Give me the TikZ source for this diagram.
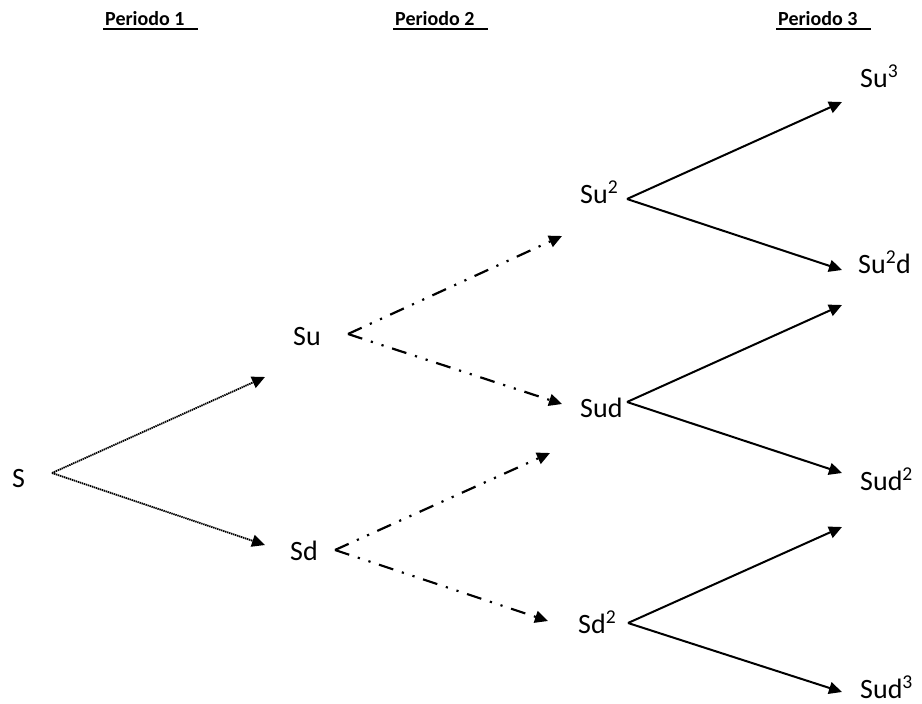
\documentclass[tikz,border=0pt]{standalone}
\usepackage{fontspec}
\setmainfont{Carlito}
\usetikzlibrary{arrows.meta}
\tikzset{
  lbl/.style={anchor=base west, inner sep=0pt, font=\fontsize{28}{32}\selectfont},
  hdr/.style={anchor=base west, inner sep=0pt, font=\bfseries\fontsize{20}{24}\selectfont},
  arr/.style={line width=2pt, -{Triangle[length=13pt,width=12pt]}},
  dotarr/.style={line width=1.8pt, dash pattern=on 1.4pt off 0.7pt, -{Triangle[length=13pt,width=12pt]}},
  dddarr/.style={line width=2.2pt, dash pattern=on 15pt off 9pt on 2.2pt off 9pt on 2.2pt off 9pt, -{Triangle[length=13pt,width=12pt]}},
  uline/.style={line width=2pt}
}
\begin{document}
\begin{tikzpicture}[x=1pt,y=-1pt]
\useasboundingbox (0,0) rectangle (922,704);
% headers
\node[hdr] (h1) at (105,25) {Periodo 1};
\node[hdr] (h2) at (395,25) {Periodo 2};
\node[hdr] (h3) at (778,25) {Periodo 3};
\draw[uline] (h1.south west) ++(-2,4) coordinate (h1a) -- ++(95,0) coordinate (h1b);
\draw[uline] (h2.south west) ++(-2,4) coordinate (h2a) -- ++(95,0) coordinate (h2b);
\draw[uline] (h3.south west) ++(-2,4) coordinate (h3a) -- ++(95,0) coordinate (h3b);
% labels
\node[lbl] (S)   at (12,487)  {S};
\node[lbl] (Su)  at (293,345) {Su};
\node[lbl] (Sd)  at (290,560) {Sd};
\node[lbl] (Su2) at (580,203) {Su\textsuperscript{2}};
\node[lbl] (Sud) at (580,417) {Sud};
\node[lbl] (Sd2) at (578,633) {Sd\textsuperscript{2}};
\node[lbl] (Su3) at (860,87)  {Su\textsuperscript{3}};
\node[lbl] (Su2d) at (858,273) {Su\textsuperscript{2}d};
\node[lbl] (Sud2) at (860,490) {Sud\textsuperscript{2}};
\node[lbl] (Sud3) at (860,698) {Sud\textsuperscript{3}};
% branch points and tips
\coordinate (pS) at (52,473);
\coordinate (tSu) at (265,377);
\coordinate (tSd) at (265,545);
\coordinate (pSu) at (348,334);
\coordinate (tSu2) at (562,236);
\coordinate (tSud) at (562,404);
\coordinate (pSd) at (335,550);
\coordinate (tSd1) at (550,453);
\coordinate (tSd2) at (548,621);
\coordinate (pSu2) at (627,199);
\coordinate (tSu3) at (842,102);
\coordinate (tSu2d) at (842,270);
\coordinate (pSud) at (627,402);
\coordinate (tSudU) at (842,305);
\coordinate (tSud2) at (842,473);
\coordinate (pSd2) at (628,623);
\coordinate (tSd2U) at (842,527);
\coordinate (tSud3) at (842,692);
% arrows
\draw[dotarr] (pS) -- (tSu);
\draw[dotarr] (pS) -- (tSd);
\draw[dddarr] (pSu) -- (tSu2);
\draw[dddarr] (pSu) -- (tSud);
\draw[dddarr] (pSd) -- (tSd1);
\draw[dddarr] (pSd) -- (tSd2);
\draw[arr] (pSu2) -- (tSu3);
\draw[arr] (pSu2) -- (tSu2d);
\draw[arr] (pSud) -- (tSudU);
\draw[arr] (pSud) -- (tSud2);
\draw[arr] (pSd2) -- (tSd2U);
\draw[arr] (pSd2) -- (tSud3);
\end{tikzpicture}
\end{document}
